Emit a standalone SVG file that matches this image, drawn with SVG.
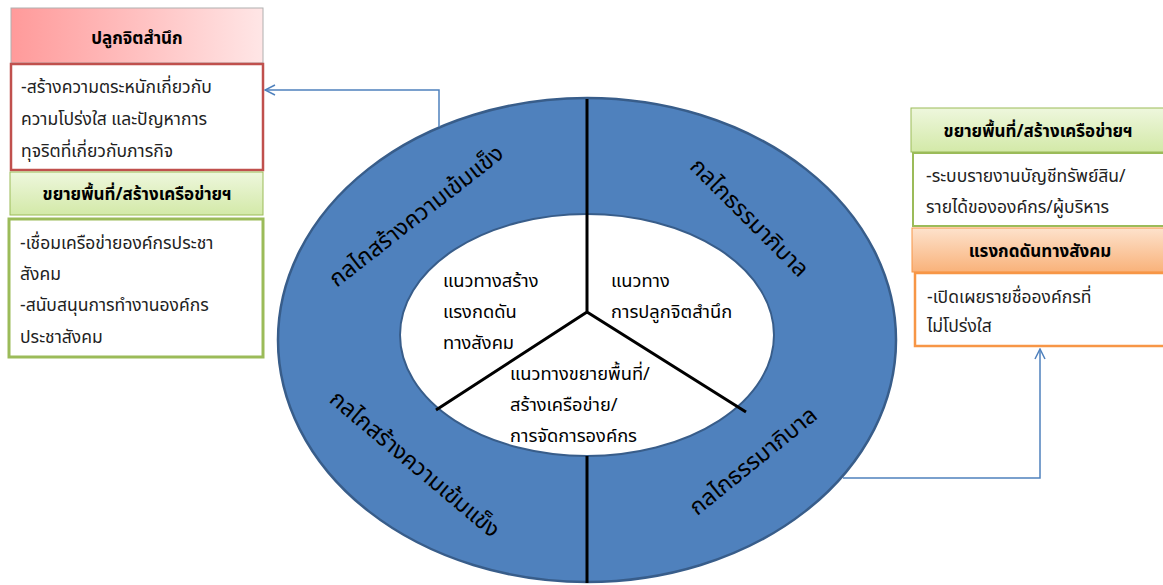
<svg xmlns="http://www.w3.org/2000/svg" width="1163" height="585" viewBox="0 0 1163 585">
<defs>
<linearGradient id="gRed" x1="0" y1="0" x2="1" y2="0"><stop offset="0" stop-color="#FF9A9A"/><stop offset="1" stop-color="#FFE6E6"/></linearGradient>
<linearGradient id="gGreen" x1="0" y1="0" x2="0" y2="1"><stop offset="0" stop-color="#EEF7DD"/><stop offset="1" stop-color="#D3E9A8"/></linearGradient>
<linearGradient id="gOrange" x1="0" y1="0" x2="0" y2="1"><stop offset="0" stop-color="#FDE2CC"/><stop offset="1" stop-color="#F9B27A"/></linearGradient>
<marker id="arr" viewBox="0 0 12 12" refX="11" refY="6" markerWidth="12" markerHeight="12" markerUnits="userSpaceOnUse" orient="auto"><path d="M1,1 L11,6 L1,11" fill="none" stroke="#4F81BD" stroke-width="1.5"/></marker>
<style>
text{font-family:"Noto Sans Thai","Tahoma","Leelawadee UI","DejaVu Sans","Noto Sans",sans-serif;}
.hd{font-size:17px;font-weight:bold;fill:#000;text-anchor:middle;}
.bd{font-size:17.5px;fill:#222;}
.ct{font-size:18.3px;fill:#000;}
.rg{font-size:23px;fill:#000;text-anchor:middle;}
.conn{fill:none;stroke:#4F81BD;stroke-width:1.5;}
</style>
</defs>

<g id="ring">
<ellipse cx="587" cy="340" rx="309" ry="242" fill="#4F81BD" stroke="#385D8A" stroke-width="2.5"/>
<ellipse cx="587" cy="335" rx="187" ry="121" fill="#FFFFFF" stroke="#385D8A" stroke-width="2"/>
<line x1="587" y1="99" x2="587" y2="214" stroke="#000" stroke-width="3"/>
<line x1="587" y1="456" x2="587" y2="583" stroke="#000" stroke-width="3"/>
<path d="M587,214 L587,312 M587,312 L436,410 M587,312 L746,412" fill="none" stroke="#000" stroke-width="3"/>
<text class="rg" transform="translate(421,222) rotate(-38)">กลไกสร้างความเข้มแข็ง</text>
<text class="rg" transform="translate(744,223) rotate(45)">กลไกธรรมาภิบาล</text>
<text class="rg" transform="translate(410,470) rotate(40)">กลไกสร้างความเข้มแข็ง</text>
<text class="rg" transform="translate(758,467) rotate(-39)">กลไกธรรมาภิบาล</text>
</g>

<g id="center-left">
<text class="ct" x="443" y="287">แนวทางสร้าง</text>
<text class="ct" x="443" y="318">แรงกดดัน</text>
<text class="ct" x="443" y="349">ทางสังคม</text>
</g>
<g id="center-right">
<text class="ct" x="611" y="287">แนวทาง</text>
<text class="ct" x="611" y="318">การปลูกจิตสำนึก</text>
</g>
<g id="center-bottom">
<text class="ct" x="510" y="380">แนวทางขยายพื้นที่/</text>
<text class="ct" x="510" y="411">สร้างเครือข่าย/</text>
<text class="ct" x="510" y="442">การจัดการองค์กร</text>
</g>

<g id="box-awareness">
<rect x="11" y="8" width="252" height="55" fill="url(#gRed)" stroke="#B0B0B0" stroke-width="1"/>
<text class="hd" x="137" y="44">ปลูกจิตสำนึก</text>
<rect x="11" y="64" width="252" height="106" fill="#FFFFFF" stroke="#C0504D" stroke-width="2.5"/>
<text class="bd" x="21" y="93">-สร้างความตระหนักเกี่ยวกับ</text>
<text class="bd" x="21" y="125">ความโปร่งใส และปัญหาการ</text>
<text class="bd" x="21" y="157">ทุจริตที่เกี่ยวกับภารกิจ</text>
</g>

<g id="box-network-left">
<rect x="10" y="172" width="253" height="43" fill="url(#gGreen)" stroke="#9BBB59" stroke-width="1"/>
<text class="hd" x="137" y="200">ขยายพื้นที่/สร้างเครือข่ายฯ</text>
<rect x="9" y="219" width="254" height="138" fill="#FFFFFF" stroke="#9BBB59" stroke-width="3"/>
<text class="bd" x="20" y="249">-เชื่อมเครือข่ายองค์กรประชา</text>
<text class="bd" x="20" y="280">สังคม</text>
<text class="bd" x="20" y="311">-สนับสนุนการทำงานองค์กร</text>
<text class="bd" x="20" y="343">ประชาสังคม</text>
</g>

<g id="box-network-right">
<rect x="911" y="108" width="260" height="44" fill="url(#gGreen)" stroke="#9BBB59" stroke-width="1"/>
<text class="hd" x="1038" y="137">ขยายพื้นที่/สร้างเครือข่ายฯ</text>
<rect x="913" y="153" width="260" height="73" fill="#FFFFFF" stroke="#9BBB59" stroke-width="2"/>
<text class="bd" x="926" y="182">-ระบบรายงานบัญชีทรัพย์สิน/</text>
<text class="bd" x="926" y="213">รายได้ขององค์กร/ผู้บริหาร</text>
</g>

<g id="box-pressure">
<rect x="912" y="228" width="260" height="44" fill="url(#gOrange)" stroke="#F79646" stroke-width="1"/>
<text class="hd" x="1040" y="257">แรงกดดันทางสังคม</text>
<rect x="915" y="273" width="260" height="73" fill="#FFFFFF" stroke="#F79646" stroke-width="2.5"/>
<text class="bd" x="927" y="303">-เปิดเผยรายชื่อองค์กรที่</text>
<text class="bd" x="927" y="332">ไม่โปร่งใส</text>
</g>

<g id="connectors">
<path class="conn" d="M439,127 L439,90 L265,90" marker-end="url(#arr)"/>
<path class="conn" d="M843,478 L1040,478 L1040,349" marker-end="url(#arr)"/>
</g>
</svg>
